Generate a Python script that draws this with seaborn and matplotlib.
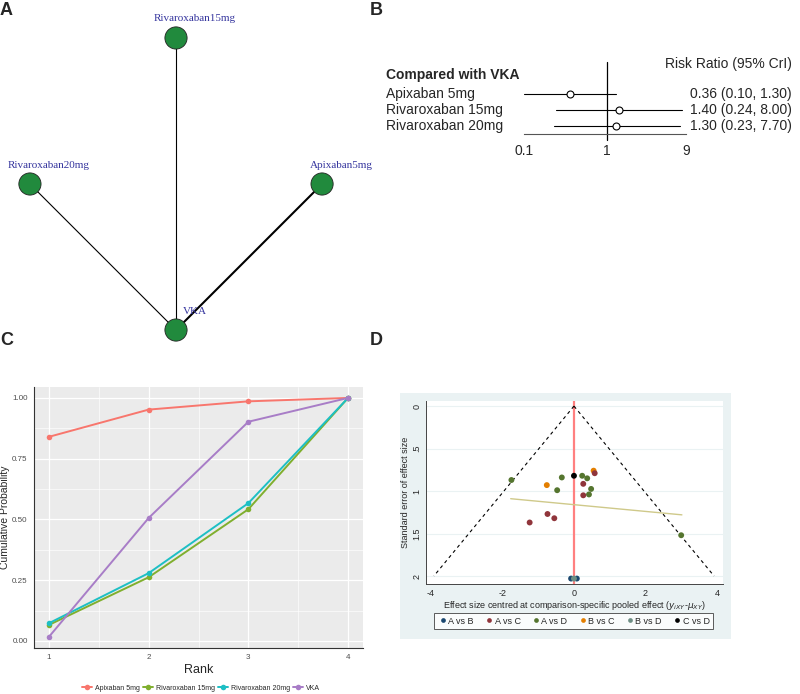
import numpy as np
import pandas as pd
import matplotlib
matplotlib.use("Agg")
import matplotlib.pyplot as plt
import matplotlib.transforms as mtransforms
from matplotlib.patches import Circle, Rectangle
import seaborn as sns

# ---------------- data ----------------
# A: network of treatments
net_nodes = ["Apixaban5mg", "Rivaroxaban15mg", "Rivaroxaban20mg", "VKA"]
net_edges = [("Rivaroxaban20mg", "VKA"), ("Rivaroxaban15mg", "VKA"), ("Apixaban5mg", "VKA")]
net_edge_width = [0.8, 0.8, 1.5]

# B: forest plot, risk ratio vs VKA
forest_labels = ["Apixaban 5mg", "Rivaroxaban 15mg", "Rivaroxaban 20mg"]
rr = [0.36, 1.40, 1.30]
rr_low = [0.10, 0.24, 0.23]
rr_high = [1.30, 8.00, 7.70]
forest_ticks = [0.1, 1, 9]

# C: cumulative ranking probabilities
ranks = [1, 2, 3, 4]
treatments = ["Apixaban 5mg", "Rivaroxaban 15mg", "Rivaroxaban 20mg", "VKA"]
cum_apixaban5 = [0.840, 0.952, 0.986, 1.0]
cum_rivaroxaban15 = [0.066, 0.262, 0.542, 1.0]
cum_rivaroxaban20 = [0.073, 0.279, 0.567, 1.0]
cum_vka = [0.017, 0.506, 0.902, 1.0]

# D: comparison-adjusted funnel plot
funnel_group = ["A vs D"] * 8 + ["C vs D"] + ["B vs C"] * 2 + ["A vs C"] * 6 + ["A vs B"] * 2 + ["B vs D"]
funnel_effect = [-1.75, -0.34, 0.23, 0.37, -0.47, 0.48, 0.42, 3.00,
                 0.00,
                 0.55, -0.76,
                 0.58, 0.26, 0.26, -0.74, -0.55, -1.24,
                 -0.08, 0.08,
                 0.00]
funnel_se = [0.87, 0.84, 0.82, 0.85, 0.99, 0.975, 1.04, 1.52,
             0.82,
             0.76, 0.93,
             0.79, 0.915, 1.05, 1.27, 1.32, 1.37,
             2.03, 2.03,
             2.03]
group_order = ["A vs B", "A vs C", "A vs D", "B vs C", "B vs D", "C vs D"]
funnel_left_x = [0, -3.92]
funnel_right_x = [0, 3.92]
funnel_y = [0, 2]
fit_x = [-1.77, 3.02]
fit_y = [1.09, 1.28]

# ---------------- figure ----------------
sns.set_style("white")
plt.rcParams["font.family"] = ["Liberation Sans", "DejaVu Sans"]
plt.rcParams["axes.unicode_minus"] = False

W, H = 800, 694
fig = plt.figure(figsize=(8, 6.94), dpi=100)


def box(left, top, right, bottom):
    # pixel box -> figure fraction rect
    return [left / W, 1 - bottom / H, (right - left) / W, (bottom - top) / H]


# panel letters
for letter, x, y in [("A", 0, 2), ("B", 370, 2), ("C", 0, 332), ("D", 370, 332)]:
    fig.text(x / W, 1 - y / H, letter, fontsize=13, fontweight="bold", va="top", ha="left")

# ---- A: network ----
axA = fig.add_axes(box(0, 0, 352, 368))
axA.set_xlim(-1.205, 1.205)
axA.set_ylim(-1.26, 1.26)
axA.axis("off")
pos = {}
for i, n in enumerate(net_nodes):
    ang = 2 * np.pi * i / len(net_nodes)
    pos[n] = (np.cos(ang), np.sin(ang))
for (a, b), lw in zip(net_edges, net_edge_width):
    axA.plot([pos[a][0], pos[b][0]], [pos[a][1], pos[b][1]], color="black", lw=lw, zorder=1)
for n in net_nodes:
    x, y = pos[n]
    axA.add_patch(Circle((x, y), 0.076, facecolor="#218a3d", edgecolor="#222222", lw=0.6, zorder=2))
    axA.text(x + 0.13, y + 0.13, n, ha="center", va="center", color="#35359e",
             family="Liberation Serif", fontsize=8, zorder=3)

# ---- B: forest ----
axB = fig.add_axes(box(524, 62, 686, 134))
axB.set_xscale("log")
axB.set_xlim(0.1, 9)
axB.set_ylim(0.5, 5)
rows = [3, 2, 1]
for r, m, lo, hi in zip(rows, rr, rr_low, rr_high):
    axB.plot([lo, hi], [r, r], color="black", lw=0.8, zorder=2)
    axB.plot(m, r, marker="o", ms=5, mfc="white", mec="black", mew=0.8, zorder=3)
axB.plot([1, 1], [0.13, 5], color="black", lw=0.9, clip_on=False, zorder=1)
axB.set_xticks(forest_ticks)
axB.set_xticklabels(["0.1", "1", "9"])
axB.xaxis.set_minor_locator(matplotlib.ticker.NullLocator())
axB.tick_params(axis="x", length=4, width=0.8, color="#555555", labelsize=10, pad=3, direction="out")
axB.set_yticks([])
for s in ["top", "left", "right"]:
    axB.spines[s].set_visible(False)
axB.spines["bottom"].set_color("#555555")
axB.spines["bottom"].set_linewidth(0.8)
tB = mtransforms.blended_transform_factory(fig.transFigure, axB.transData)
axB.text(386 / W, 4.19, "Compared with VKA", transform=tB, fontsize=10, fontweight="bold", va="center", ha="left")
axB.text(792 / W, 4.88, "Risk Ratio (95% CrI)", transform=tB, fontsize=10, va="center", ha="right")
for r, lab, m, lo, hi in zip(rows, forest_labels, rr, rr_low, rr_high):
    axB.text(386 / W, r, lab, transform=tB, fontsize=10, va="center", ha="left")
    axB.text(792 / W, r, f"{m:.2f} ({lo:.2f}, {hi:.2f})", transform=tB, fontsize=10, va="center", ha="right")

# ---- C: cumulative ranking ----
df_rank = pd.DataFrame({
    "Rank": ranks * 4,
    "prob": cum_apixaban5 + cum_rivaroxaban15 + cum_rivaroxaban20 + cum_vka,
    "Treatment": [t for t in treatments for _ in ranks],
})
palC = dict(zip(treatments, ["#F8766D", "#80AF2E", "#1DBFC4", "#A87DC7"]))
axC = fig.add_axes(box(34, 387, 363, 648))
axC.set_facecolor("#EBEBEB")
sns.lineplot(data=df_rank, x="Rank", y="prob", hue="Treatment", palette=palC, marker="o",
             markersize=4, markeredgewidth=0, linewidth=1.4, ax=axC, zorder=3)
axC.set_xlim(0.85, 4.15)
axC.set_ylim(-0.029, 1.045)
axC.set_xticks(ranks)
axC.set_xticks([1.5, 2.5, 3.5], minor=True)
axC.set_yticks([0, 0.25, 0.5, 0.75, 1.0])
axC.set_yticks([0.125, 0.375, 0.625, 0.875], minor=True)
axC.set_yticklabels(["0.00", "0.25", "0.50", "0.75", "1.00"])
axC.grid(True, which="major", color="white", lw=0.9)
axC.grid(True, which="minor", color="white", lw=0.45)
axC.set_axisbelow(True)
for s in ["top", "right"]:
    axC.spines[s].set_visible(False)
for s in ["left", "bottom"]:
    axC.spines[s].set_color("#333333")
    axC.spines[s].set_linewidth(0.8)
axC.tick_params(axis="both", which="major", length=3, width=0.6, color="#333333",
                labelsize=5.8, labelcolor="#4D4D4D", pad=1.5)
axC.tick_params(axis="both", which="minor", length=0)
axC.set_xlabel("Rank", fontsize=9, labelpad=2)
axC.set_ylabel("Cumulative Probability", fontsize=7.5)
axC.yaxis.set_label_coords(-0.072, 0.5)
handles, labels = axC.get_legend_handles_labels()
axC.legend(handles, labels, loc="center", bbox_to_anchor=(201 / W, 1 - 688 / H),
           bbox_transform=fig.transFigure, ncol=4, frameon=False, fontsize=5,
           handlelength=1.4, handletextpad=0.4, columnspacing=0.5)

# ---- D: funnel ----
fig.patches.append(Rectangle((400 / W, 1 - 639 / H), 331 / W, 246 / H, transform=fig.transFigure,
                             facecolor="#EAF2F3", edgecolor="none", zorder=-1))
axD = fig.add_axes(box(426, 401, 723, 584))
axD.set_facecolor("white")
df_funnel = pd.DataFrame({"effect": funnel_effect, "se": funnel_se, "group": funnel_group})
palD = dict(zip(group_order, ["#1A476F", "#90353B", "#55752F", "#E37E00", "#6E8E84", "#000000"]))
axD.axvline(0, color="#FF8080", lw=1.6, zorder=1)
axD.plot(funnel_left_x, funnel_y, color="black", lw=0.8, ls=(0, (3, 3)), zorder=2)
axD.plot(funnel_right_x, funnel_y, color="black", lw=0.8, ls=(0, (3, 3)), zorder=2)
axD.plot(fit_x, fit_y, color="#CFC98A", lw=1.0, zorder=2)
sns.scatterplot(data=df_funnel, x="effect", y="se", hue="group", hue_order=group_order,
                palette=palD, s=18, linewidth=0, ax=axD, zorder=3)
axD.set_xlim(-4.14, 4.17)
axD.set_ylim(2.094, -0.06)
axD.set_xticks([-4, -2, 0, 2, 4])
axD.set_yticks([0, 0.5, 1, 1.5, 2])
axD.set_yticklabels(["0", ".5", "1", "1.5", "2"], rotation=90, va="center")
axD.grid(True, axis="y", color="#EAF2F3", lw=0.8)
axD.grid(False, axis="x")
axD.set_axisbelow(True)
for s in ["top", "right"]:
    axD.spines[s].set_visible(False)
for s in ["left", "bottom"]:
    axD.spines[s].set_color("#444444")
    axD.spines[s].set_linewidth(0.7)
axD.tick_params(axis="both", length=3, width=0.6, color="#444444", labelsize=6.5, pad=0.5)
axD.set_xlabel(r"Effect size centred at comparison-specific pooled effect ($y_{iXY}$-$\mu_{XY}$)",
               fontsize=6.5)
axD.xaxis.set_label_coords(0.5, (584 - 599) / 183)
axD.set_ylabel("Standard error of effect size", fontsize=6.5)
axD.yaxis.set_label_coords((410 - 426) / 297, 0.5)
handles, labels = axD.get_legend_handles_labels()
legD = axD.legend(handles, labels, loc="center", bbox_to_anchor=(573.5 / W, 1 - 621 / H),
                  bbox_transform=fig.transFigure, ncol=6, frameon=True, fancybox=False,
                  edgecolor="#333333", fontsize=6.5, handletextpad=0.0, columnspacing=1.1,
                  handlelength=1.2, borderpad=0.4, markerscale=0.8)
legD.get_frame().set_linewidth(0.7)

fig.savefig("out.png", dpi=100)
